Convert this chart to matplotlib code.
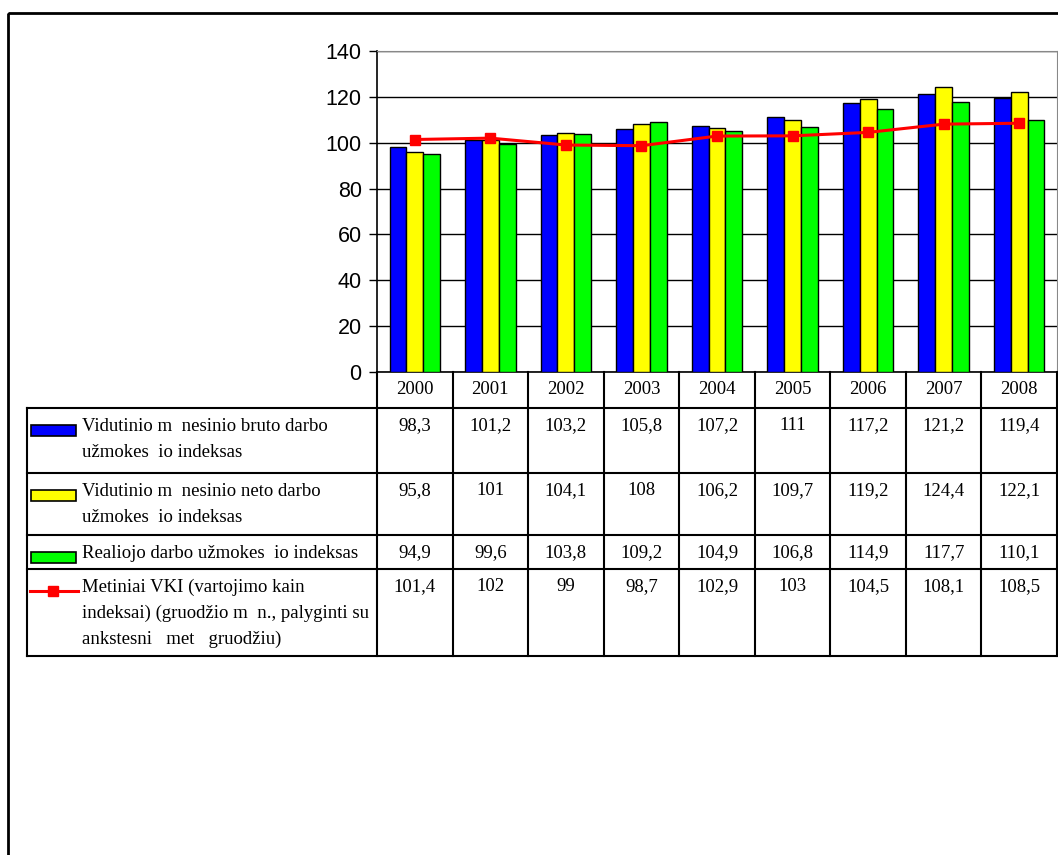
import numpy as np
import matplotlib
matplotlib.use('Agg')
import matplotlib.pyplot as plt
from matplotlib.patches import Rectangle
from matplotlib.lines import Line2D

# chart data
years = ['2000', '2001', '2002', '2003', '2004', '2005', '2006', '2007', '2008']
bruto = [98.3, 101.2, 103.2, 105.8, 107.2, 111, 117.2, 121.2, 119.4]
neto = [95.8, 101, 104.1, 108, 106.2, 109.7, 119.2, 124.4, 122.1]
realus = [94.9, 99.6, 103.8, 109.2, 104.9, 106.8, 114.9, 117.7, 110.1]
vki = [101.4, 102, 99, 98.7, 102.9, 103, 104.5, 108.1, 108.5]
bruto_txt = ['98,3', '101,2', '103,2', '105,8', '107,2', '111', '117,2', '121,2', '119,4']
neto_txt = ['95,8', '101', '104,1', '108', '106,2', '109,7', '119,2', '124,4', '122,1']
realus_txt = ['94,9', '99,6', '103,8', '109,2', '104,9', '106,8', '114,9', '117,7', '110,1']
vki_txt = ['101,4', '102', '99', '98,7', '102,9', '103', '104,5', '108,1', '108,5']
labels = [
    ['Vidutinio m  nesinio bruto darbo', 'užmokes  io indeksas'],
    ['Vidutinio m  nesinio neto darbo', 'užmokes  io indeksas'],
    ['Realiojo darbo užmokes  io indeksas'],
    ['Metiniai VKI (vartojimo kain', 'indeksai) (gruodžio m  n., palyginti su', 'ankstesni   met   gruodžiu)'],
]

W, H = 1058, 855
plot_l, plot_r, plot_t, plot_b = 377, 1057, 51, 372
tab_l = 27
row_lines = [408, 473, 535, 569, 656]
serif = 'Liberation Serif'
tsize = 13.5


def main():
    fig = plt.figure(figsize=(W / 100, H / 100), dpi=100)
    ax = fig.add_axes([plot_l / W, 1 - plot_b / H, (plot_r - plot_l) / W, (plot_b - plot_t) / H])
    draw_bars(ax)

    ov = fig.add_axes([0, 0, 1, 1], facecolor='none')
    ov.set_xlim(0, W)
    ov.set_ylim(H, 0)
    ov.axis('off')
    draw_table(ov)

    # outer frame
    ov.add_patch(Rectangle((8, 13), W + 20, H + 20, fill=False, lw=2, ec='black'))

    fig.savefig('out.png', dpi=100)


def draw_bars(ax):
    x = np.arange(len(years))
    bw = 1 / 4.5
    colors = ['#0000FF', '#FFFF00', '#00FF00']
    for k, (vals, c) in enumerate(zip([bruto, neto, realus], colors)):
        ax.bar(x + (k - 1) * bw, vals, bw, color=c, edgecolor='black', lw=1, zorder=3)
    ax.plot(x, vki, color='#FF0000', lw=2.2, marker='s', ms=7.2, zorder=4)

    ax.set_xlim(-0.5, len(years) - 0.5)
    ax.set_ylim(0, 140)
    ax.set_yticks(range(0, 141, 20))
    ax.set_xticks([])
    for t in ax.get_yticklabels():
        t.set_fontfamily('Liberation Sans')
        t.set_fontsize(15.5)
    ax.tick_params(axis='y', length=6, width=1, direction='out', pad=5)
    ax.yaxis.grid(True, color='black', lw=1)
    ax.set_axisbelow(True)
    ax.spines['top'].set_color('#888888')
    ax.spines['right'].set_color('#888888')
    ax.spines['left'].set_linewidth(1.2)
    ax.spines['bottom'].set_linewidth(1.2)


def draw_table(ov):
    ncol = len(years)
    cw = (plot_r - plot_l) / ncol
    cols = [plot_l + i * cw for i in range(ncol + 1)]
    lw = 1.5

    # grid lines
    for y in row_lines:
        ov.add_line(Line2D([tab_l, plot_r], [y, y], color='black', lw=lw))
    ov.add_line(Line2D([tab_l, tab_l], [row_lines[0], row_lines[-1]], color='black', lw=lw))
    for cx in cols:
        ov.add_line(Line2D([cx, cx], [plot_b, row_lines[-1]], color='black', lw=lw))

    # header
    for i, yr in enumerate(years):
        ov.text(cols[i] + cw / 2, 389, yr, ha='center', va='center', fontsize=tsize, family=serif)

    # rows
    texts = [bruto_txt, neto_txt, realus_txt, vki_txt]
    for r, vals in enumerate(texts):
        top = row_lines[r]
        for i, v in enumerate(vals):
            ov.text(cols[i] + cw / 2, top + 9, v, ha='center', va='top', fontsize=tsize, family=serif)
        for j, line in enumerate(labels[r]):
            ov.text(82, top + 10 + j * 26, line, ha='left', va='top', fontsize=tsize, family=serif)

    # legend keys
    key_y = [row_lines[r] + 22 for r in range(4)]
    for r, c in enumerate(['#0000FF', '#FFFF00', '#00FF00']):
        ov.add_patch(Rectangle((31, key_y[r] - 5), 45, 11, fc=c, ec='black', lw=1.2))
    ov.add_line(Line2D([30, 78], [key_y[3], key_y[3]], color='#FF0000', lw=2.2))
    ov.add_line(Line2D([53], [key_y[3]], color='#FF0000', marker='s', ms=7.2))


if __name__ == '__main__':
    main()
